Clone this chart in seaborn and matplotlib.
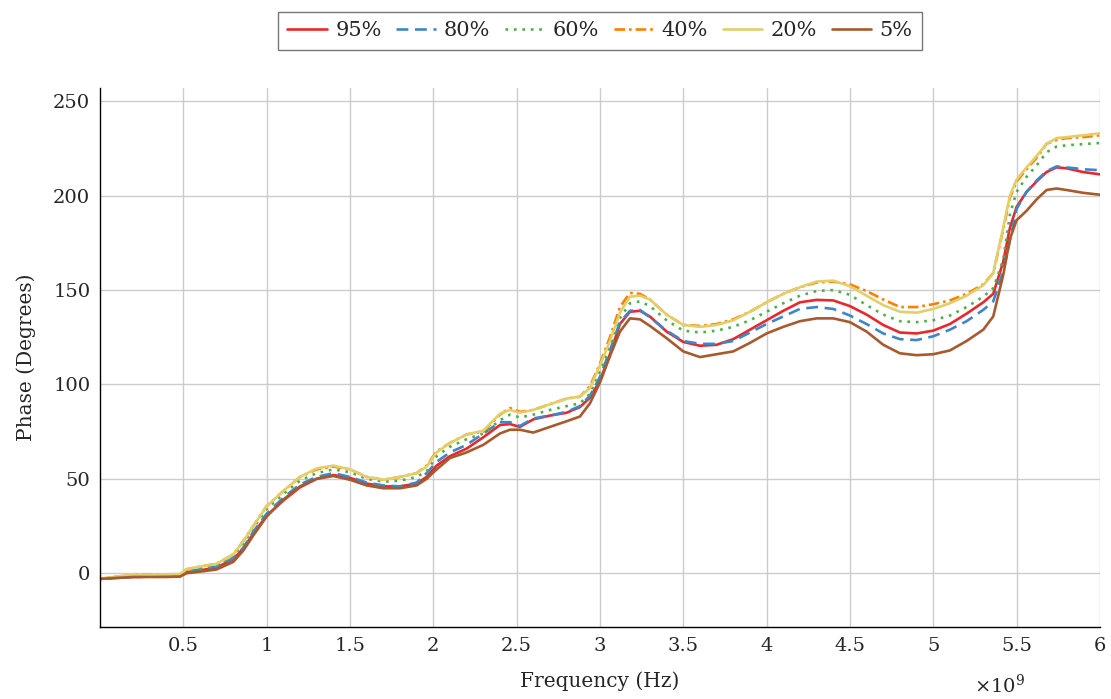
import matplotlib
import matplotlib.pyplot as plt
import pandas as pd
import seaborn as sns

matplotlib.use("Agg")

# --- DATA (frequency in GHz, phase in degrees) ---
freq_ghz = [0.0, 0.1, 0.2, 0.3, 0.4, 0.48, 0.52, 0.6, 0.7, 0.8, 0.86, 0.92,
            1.0, 1.1, 1.2, 1.3, 1.4, 1.5, 1.6, 1.7, 1.8, 1.9, 1.96, 2.02,
            2.1, 2.2, 2.3, 2.4, 2.46, 2.52, 2.6, 2.7, 2.8, 2.88, 2.94, 3.0,
            3.06, 3.12, 3.18, 3.24, 3.3, 3.4, 3.5, 3.6, 3.7, 3.8, 3.9, 4.0,
            4.1, 4.2, 4.3, 4.4, 4.5, 4.6, 4.7, 4.8, 4.9, 5.0, 5.1, 5.2,
            5.3, 5.36, 5.42, 5.46, 5.5, 5.56, 5.62, 5.68, 5.74, 5.8, 5.9, 6.0]

phase_95 = [-3, -2.5, -2, -1.8, -1.8, -1.5, 0.5, 1.5, 3, 7.5, 13, 21,
            30.5, 38.5, 45.5, 50, 52, 50.5, 47.5, 46, 46, 47.5, 51, 57,
            62, 66, 72, 78.5, 79, 77.5, 81.5, 83.5, 85, 88, 93, 102,
            116, 132, 138.5, 139, 136, 128, 122.5, 120.5, 121, 124, 129, 134,
            139, 143.5, 144.8, 144.5, 141.5, 137, 131.5, 127.5, 127, 128.5, 132, 137.5,
            143.5, 148, 165, 183, 194, 202, 207.5, 212.5, 215, 214.5, 212.5, 211.3]

phase_80 = [-3, -2.5, -2, -1.8, -1.8, -1.5, 0.8, 2, 3.5, 8, 13.5, 22,
            31.5, 40, 47, 51, 53, 51, 48, 46.5, 46, 48, 53, 59,
            64, 68, 74, 80, 80, 78, 82, 83.5, 85.5, 88.5, 94, 104,
            118, 133, 139, 139.5, 135.5, 128.5, 123, 121.5, 121.5, 123, 127.5, 132,
            136, 140, 141, 140, 136.5, 132, 127, 124, 123.5, 125.5, 129, 133.5,
            139.5, 144, 160, 176, 193, 202, 208, 213, 215.5, 215, 214, 213.5]

phase_60 = [-3, -2, -1.5, -1.2, -1, -1, 1.5, 2.5, 4, 9, 15.5, 24,
            34, 42, 49, 53, 55, 53.5, 50, 48.5, 49, 51, 54, 62,
            67, 71, 74, 81, 84, 82.5, 84, 86.5, 88.5, 90, 95, 107,
            120, 135, 143, 144, 141.5, 134, 128.5, 127.5, 128.5, 130.5, 134, 138.5,
            143, 147, 149.5, 150, 147.5, 142, 137, 133.5, 133, 134, 136.5, 141,
            146.5, 151, 166, 190, 202, 210, 216, 223, 226, 226.7, 227.3, 227.9]

phase_40 = [-3, -1.8, -1, -0.8, -0.6, -0.5, 2, 3.5, 5, 10, 17, 25,
            35.5, 43.5, 51, 55, 56.5, 55, 51, 49.5, 51, 53, 57, 64.5,
            69, 73.5, 75, 84, 87.5, 85.5, 86.5, 89.5, 92.5, 93.5, 99, 111,
            125, 141, 148.5, 148, 145, 137, 131.5, 131, 132, 134.5, 138.5, 143.5,
            148, 151.5, 154, 154.5, 153, 149.5, 145, 141, 141, 142.5, 144.5, 148,
            153, 159, 182, 199, 207.5, 214, 220, 227.5, 229.5, 230.5, 231, 232]

phase_20 = [-3, -1.8, -1, -0.8, -0.6, -0.5, 2.2, 3.5, 5, 10, 17, 25,
            35.5, 43.5, 51, 55.5, 57, 55, 51, 49.5, 51, 53, 56.5, 64,
            69, 73.5, 75.5, 84.5, 86.5, 85, 86.5, 89.5, 92.5, 93.5, 98, 110,
            123, 138, 146.5, 147, 145, 137, 131.5, 130.5, 131.5, 134, 138.5, 143.5,
            148, 151.5, 154.5, 155, 152, 147, 142, 138.5, 138, 140, 143, 147,
            152.5, 159, 183, 200, 208.5, 215, 221, 227.5, 230.5, 231, 232, 233]

phase_5 = [-3, -2.5, -2, -2, -2, -1.8, 0, 0.8, 2, 6, 12, 20,
           30, 39, 46, 50, 51.5, 49.5, 46.5, 45, 45, 46.5, 50, 55,
           61, 64, 68, 74, 76, 76, 74.5, 77.5, 80.5, 83, 90, 101,
           115, 128, 135, 134.5, 131, 124.5, 117.5, 114.5, 116, 117.5, 122, 127,
           130.5, 133.5, 135, 135, 133, 128, 121, 116.5, 115.5, 116, 118, 123,
           129, 136, 158, 177, 187, 192, 198, 203, 203.8, 203, 201.5, 200.5]

levels = ["95%", "80%", "60%", "40%", "20%", "5%"]
colors = ["#e8282d", "#3f86c6", "#4daf4a", "#ff7f00", "#e2cf6a", "#a65a2e"]
dashes = ["", (4.5, 2.5), (1, 2.2), (4, 1.5, 1, 1.5), "", ""]

series = [phase_95, phase_80, phase_60, phase_40, phase_20, phase_5]
rows = []
for level, vals in zip(levels, series):
    for f, p in zip(freq_ghz, vals):
        rows.append({"Frequency": f * 1e9, "Phase": p, "Level": level})
df = pd.DataFrame(rows)

sns.set_style("white")
plt.rcParams["font.family"] = ["DejaVu Serif"]
plt.rcParams["mathtext.fontset"] = "dejavuserif"

fig = plt.figure(figsize=(11.11, 6.99), dpi=100)
ax = fig.add_axes([0.090, 0.103, 0.900, 0.771])

sns.lineplot(
    data=df,
    x="Frequency",
    y="Phase",
    hue="Level",
    style="Level",
    hue_order=levels,
    style_order=levels,
    palette=dict(zip(levels, colors)),
    dashes=dict(zip(levels, dashes)),
    linewidth=1.9,
    ax=ax,
)

ax.set_xlim(0, 6e9)
ax.set_ylim(-28.5, 257)
xt = [0.5, 1, 1.5, 2, 2.5, 3, 3.5, 4, 4.5, 5, 5.5, 6]
ax.set_xticks([v * 1e9 for v in xt])
ax.set_xticklabels([f"{v:g}" for v in xt])
ax.set_yticks([0, 50, 100, 150, 200, 250])

ax.grid(True, color="#cccccc", linewidth=1.0)
ax.set_axisbelow(True)
for s in ["top", "right"]:
    ax.spines[s].set_visible(False)
for s in ["left", "bottom"]:
    ax.spines[s].set_color("black")
    ax.spines[s].set_linewidth(1.0)
ax.tick_params(direction="in", length=5, color="#999999", labelsize=14, pad=7)

ax.set_xlabel("Frequency (Hz)", fontsize=14.5, labelpad=12)
ax.set_ylabel("Phase (Degrees)", fontsize=14.5, labelpad=12)
fig.text(0.9, 0.003, r"$\times10^{9}$", fontsize=14, ha="center", va="bottom")

handles, labels = ax.get_legend_handles_labels()
ax.get_legend().remove()
fig.legend(
    handles,
    labels,
    loc="center",
    bbox_to_anchor=(0.54, 0.956),
    ncol=6,
    fontsize=15,
    frameon=True,
    fancybox=False,
    edgecolor="#555555",
    handlelength=1.9,
    handletextpad=0.4,
    columnspacing=0.7,
    borderpad=0.45,
)

plt.savefig("out.png", dpi=100)
